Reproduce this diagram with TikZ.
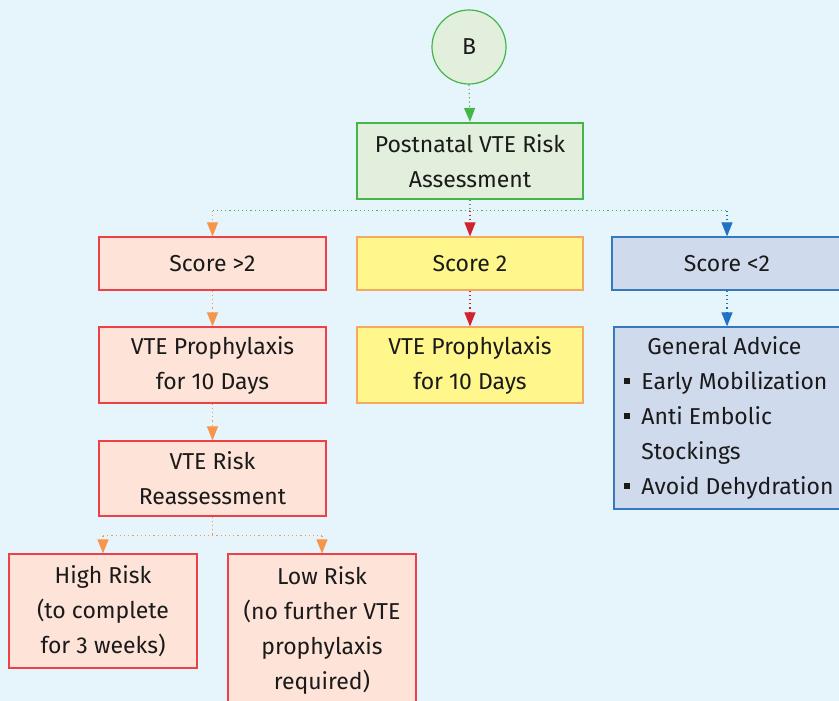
\documentclass[tikz,border=0pt]{standalone}
\usepackage{fontspec}
\setmainfont{Fira Sans}
\usetikzlibrary{arrows.meta,calc}
\definecolor{bgc}{HTML}{E6F4FC}
\definecolor{grS}{HTML}{45B549}
\definecolor{grF}{HTML}{E3EFDD}
\definecolor{rdS}{HTML}{EE4046}
\definecolor{rdF}{HTML}{FDE3D8}
\definecolor{ylF}{HTML}{FFF68C}
\definecolor{ylS}{HTML}{F5A85F}
\definecolor{blF}{HTML}{CFDAEC}
\definecolor{blS}{HTML}{3478BE}
\definecolor{orA}{HTML}{F7964A}
\definecolor{rdA}{HTML}{D0232C}
\definecolor{blA}{HTML}{1E74C2}
\definecolor{txt}{HTML}{1A1A1A}
\newcommand{\bul}{\rule[5.5pt]{6pt}{6pt}\hspace{11pt}}
\tikzset{
  box/.style={draw, line width=1.2pt, rectangle, inner sep=0pt, align=center, text=txt,
    font=\fontsize{23}{35}\selectfont},
  redbox/.style={box, draw=rdS, fill=rdF},
  ylwbox/.style={box, draw=ylS, fill=ylF},
  blubox/.style={box, draw=blS, fill=blF},
  grnbox/.style={box, draw=grS, fill=grF},
  link/.style={line width=1.1pt, dash pattern=on 1.2pt off 3pt},
  tip/.style={link, -{Triangle[length=14pt,width=11pt]}},
}
\begin{document}
\begin{tikzpicture}[x=1pt,y=-1pt]
\fill[bgc] (0,0) rectangle (839,701);
\useasboundingbox (0,0) rectangle (839,701);

\node[grnbox, circle, minimum size=74pt] (b) at (469,47) {B};
\node[grnbox, minimum width=226pt, minimum height=76pt] (asm) at (470,161) {Postnatal VTE Risk\\Assessment};

\node[redbox, minimum width=227pt, minimum height=53pt] (s1) at (212.5,263.5) {Score >2};
\node[ylwbox, minimum width=226pt, minimum height=53pt] (s2) at (470,263.5) {Score 2};
\node[blubox, minimum width=230pt, minimum height=53pt] (s3) at (727,263.5) {Score <2};

\node[redbox, minimum width=227pt, minimum height=76pt] (p1) at (212.5,365) {VTE Prophylaxis\\for 10 Days};
\node[ylwbox, minimum width=226pt, minimum height=76pt] (p2) at (470,365) {VTE Prophylaxis\\for 10 Days};
\node[blubox, minimum width=230pt, minimum height=182pt, align=left] (g) at (729,418)
  {\hspace*{23pt}General Advice\\\bul Early Mobilization\\\bul Anti Embolic\\\hphantom{\bul}Stockings\\\bul Avoid Dehydration};

\node[redbox, minimum width=227pt, minimum height=75pt] (r) at (212.5,478.5) {VTE Risk\\Reassessment};

\node[redbox, minimum width=188pt, minimum height=114pt] (hi) at (103,611) {High Risk\\(to complete\\for 3 weeks)};
\node[redbox, minimum width=188pt, minimum height=152pt] (lo) at (322,630) {Low Risk\\(no further VTE\\prophylaxis\\required)};

% connectors
\draw[tip, grS, shorten >=0.5pt] (b.south) -- (asm.north);
\coordinate (bus) at ($(asm.south)+(0,11)$);
\draw[link, grS] (asm.south) -- (bus);
\draw[link, grS] (bus -| s1.north) -- (bus -| s3.north);
\draw[tip, orA] (bus -| s1.north) -- (s1.north);
\draw[tip, rdA] (bus) -- (s2.north);
\draw[tip, blA] (bus -| s3.north) -- (s3.north);

\draw[tip, orA] (s1.south) -- (p1.north);
\draw[tip, rdA] (s2.south) -- (p2.north);
\draw[tip, blA] (s3.south) -- (s3.south |- g.north);
\draw[tip, orA] (p1.south) -- (r.north);

\coordinate (bus2) at ($(r.south)+(0,19)$);
\draw[link, orA] (r.south) -- (bus2);
\draw[link, orA] (bus2 -| hi.north) -- (bus2 -| lo.north);
\draw[tip, orA] (bus2 -| hi.north) -- (hi.north);
\draw[tip, orA] (bus2 -| lo.north) -- (lo.north);
\end{tikzpicture}
\end{document}
